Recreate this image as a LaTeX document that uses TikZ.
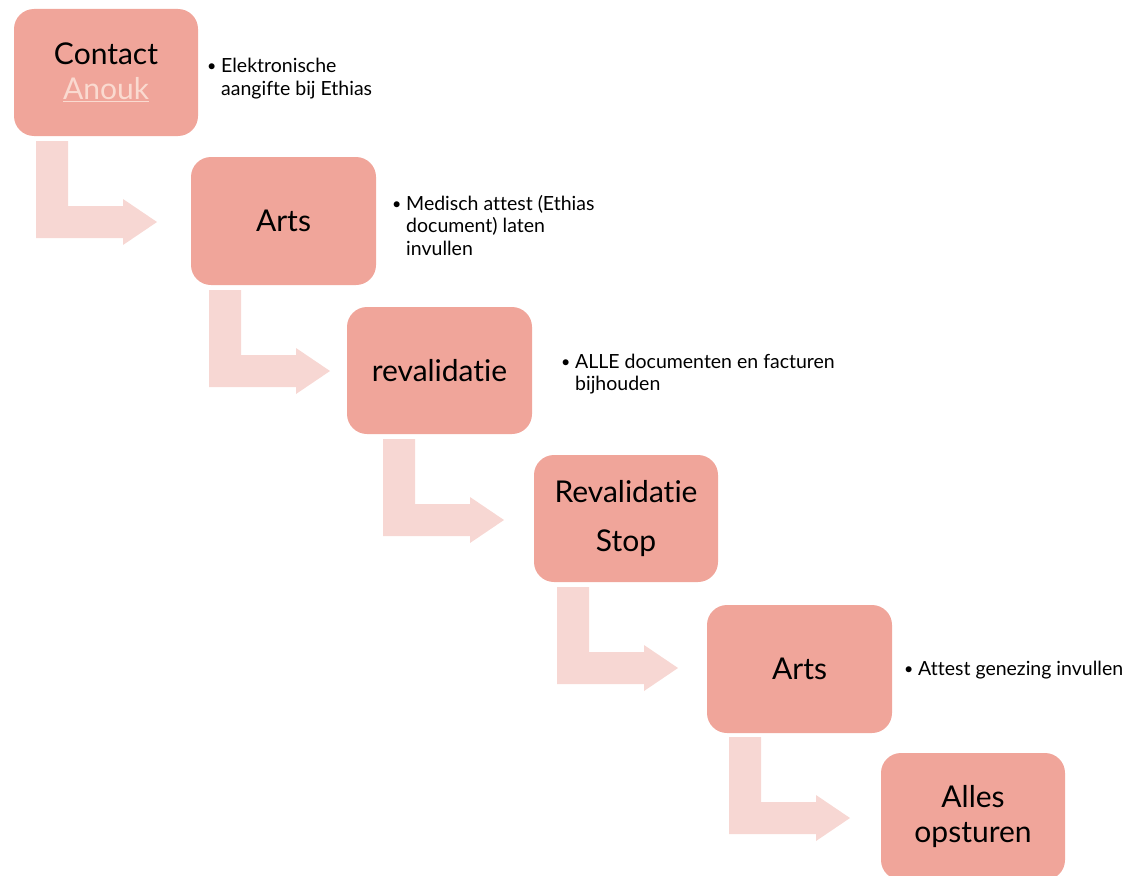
\documentclass[tikz,border=0pt]{standalone}
\usepackage{fontspec}
\setmainfont{Lato}[Ligatures=NoCommon]
\definecolor{boxfill}{RGB}{240,165,154}
\definecolor{arrowfill}{RGB}{247,215,211}
\definecolor{linkcol}{RGB}{250,218,208}
\newcommand{\toplines}[1]{\begin{tabular}[t]{@{}l@{}}#1\end{tabular}}
\tikzset{
  stepbox/.style={rectangle, rounded corners=20pt, fill=boxfill, draw=none,
    minimum width=184pt, minimum height=127pt, inner sep=0pt, align=center,
    font=\fontsize{30}{35}\selectfont, text=black},
  bullettext/.style={anchor=base west, inner sep=0pt,
    font=\fontsize{19.5}{22.5}\selectfont, text=black},
  bulletdot/.style={anchor=base west, inner sep=0pt,
    font=\fontsize{16}{20}\selectfont, text=black},
  pics/bentarrow/.style={code={
    \fill[arrowfill] (0,0) -- (32,0) -- (32,65) -- (87,65) -- (87,58) -- (121,81)
      -- (87,104) -- (87,97) -- (0,97) -- cycle;}}
}
\begin{document}
\begin{tikzpicture}[x=1pt,y=-1pt]
\useasboundingbox (0,0) rectangle (1129,875);
\clip (0,0) rectangle (1129,875);

% bent arrows
\pic (a1) at (36,141) {bentarrow};
\pic (a2) at (209,290) {bentarrow};
\pic (a3) at (383,439) {bentarrow};
\pic (a4) at (557,587) {bentarrow};
\pic (a5) at (729,737) {bentarrow};

% step boxes
\node[stepbox] (b1) at (106,72.5) {Contact\\{\color{linkcol}\underline{Anouk}}};
\node[stepbox, minimum width=185pt, minimum height=128pt] (b2) at (283.5,221) {Arts};
\node[stepbox, minimum width=185pt] (b3) at (439.5,370.5) {revalidatie};
\node[stepbox, font=\fontsize{30}{49}\selectfont] (b4) at (626,518.5) {Revalidatie\\Stop};
\node[stepbox, minimum width=185pt, minimum height=128pt] (b5) at (799.5,669) {Arts};
\node[stepbox] (b6) at (973,816.5) {Alles\\opsturen};

% bullet texts
\node[bulletdot] (d1) at (207,71.5) {•};
\node[bullettext] (t1) at (221,72.5) {\toplines{Elektronische\\aangifte bij Ethias}};
\node[bulletdot] (d2) at (392,209) {•};
\node[bullettext] (t2) at (406,210) {\toplines{Medisch attest (Ethias\\document) laten\\invullen}};
\node[bulletdot] (d3) at (561,367) {•};
\node[bullettext] (t3) at (575,368) {\toplines{ALLE documenten en facturen\\bijhouden}};
\node[bulletdot] (d5) at (904,674) {•};
\node[bullettext] (t5) at (918,675) {Attest genezing invullen};
\end{tikzpicture}
\end{document}
